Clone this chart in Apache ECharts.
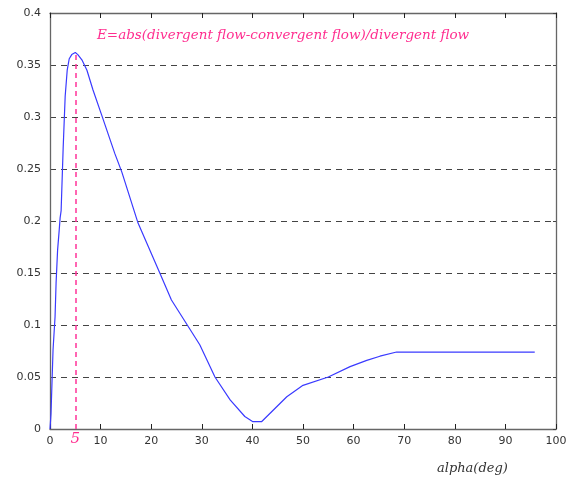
<!DOCTYPE html>
<html><head><meta charset="utf-8">
<script src="https://cdn.jsdelivr.net/npm/echarts@6/dist/echarts.min.js"></script>
<style>html,body{margin:0;padding:0;background:#fff}#c{width:580px;height:481px}</style>
</head><body><div id="c"></div>
<script>
const alpha = [0, 0.2, 0.6, 1.0, 1.2, 1.5, 1.8, 2.0, 2.2, 2.6, 3.0, 3.4, 3.8, 4.3, 5.0, 5.5, 6.3, 7.3, 8.5, 10.2, 12.8, 14.2, 17.4, 21.7, 24.0, 29.6, 32.6, 35.6, 38.5, 40.1, 41.8, 44.1, 46.8, 50.0, 55.0, 59.3, 62.6, 65.2, 68.5, 95.8];
const E =     [0, 0.015, 0.076, 0.108, 0.140, 0.172, 0.190, 0.203, 0.210, 0.270, 0.320, 0.345, 0.356, 0.360, 0.362, 0.360, 0.355, 0.345, 0.326, 0.302, 0.265, 0.247, 0.198, 0.150, 0.124, 0.081, 0.050, 0.028, 0.012, 0.007, 0.007, 0.018, 0.031, 0.042, 0.050, 0.060, 0.066, 0.070, 0.074, 0.074];
const xTicks = [0, 10, 20, 30, 40, 50, 60, 70, 80, 90, 100];
const yTicks = [0, 0.05, 0.1, 0.15, 0.2, 0.25, 0.3, 0.35, 0.4];
const peakAlpha = 5, peakE = 0.362;
const titleText = 'E=abs(divergent flow-convergent flow)/divergent flow';
const xName = 'alpha(deg)';

const chart = echarts.init(document.getElementById('c'));
const axisLineStyle = {color: '#666', width: 1.3};
const pinkLine = {color: '#ff3399', type: [5, 4], width: 1.5};
chart.setOption({
  backgroundColor: '#fff',
  animation: false,
  title: [
    {text: titleText, left: 92, top: 23, textStyle: {fontFamily: 'DejaVu Serif', fontStyle: 'italic', fontWeight: 'normal', fontSize: 13.5, color: '#ff2d8f'}},
    {text: xName, left: 432, top: 457, textStyle: {fontFamily: 'DejaVu Serif', fontStyle: 'italic', fontWeight: 'normal', fontSize: 13, color: '#333'}}
  ],
  grid: {left: 50, right: 24, top: 13, bottom: 52},
  xAxis: [
    {type: 'value', min: 0, max: 100, interval: 10, position: 'bottom',
     axisLine: {onZero: false, lineStyle: axisLineStyle}, axisTick: {inside: true, length: 5, lineStyle: {color: '#222'}},
     axisLabel: {color: '#333', fontSize: 11, fontFamily: 'DejaVu Sans', margin: 7,
       formatter: v => xTicks.includes(v) ? String(v) : ''},
     splitLine: {show: false}},
    {type: 'value', min: 0, max: 100, interval: 10, position: 'top',
     axisLine: {show: true, onZero: false, lineStyle: axisLineStyle}, axisTick: {inside: true, length: 5, lineStyle: {color: '#222'}},
     axisLabel: {show: false}, splitLine: {show: false}}
  ],
  yAxis: [
    {type: 'value', min: 0, max: 0.4, interval: 0.05, position: 'left',
     axisLine: {show: true, onZero: false, lineStyle: axisLineStyle}, axisTick: {show: false},
     axisLabel: {color: '#333', fontSize: 11, fontFamily: 'DejaVu Sans', margin: 9,
       formatter: v => { const t = yTicks.find(k => Math.abs(k - v) < 1e-9); return t === undefined ? '' : String(t); }},
     splitLine: {show: true, showMinLine: false, showMaxLine: false, lineStyle: {type: [6, 5], color: '#444', width: 1}}},
    {type: 'value', min: 0, max: 0.4, interval: 0.05, position: 'right',
     axisLine: {show: true, onZero: false, lineStyle: axisLineStyle}, axisTick: {show: true, inside: true, length: 3, lineStyle: {color: '#444'}},
     axisLabel: {show: false}, splitLine: {show: false}}
  ],
  series: [{
    type: 'line', xAxisIndex: 0, yAxisIndex: 0, showSymbol: false, symbol: 'none',
    data: alpha.map((a, i) => [a, E[i]]),
    lineStyle: {color: '#3a3aff', width: 1.2},
    z: 3,
    markLine: {
      silent: true, symbol: ['none', 'none'],
      lineStyle: pinkLine,
      emphasis: {disabled: true},
      label: {show: true, position: 'start', formatter: String(peakAlpha), color: '#ff2d8f',
        fontFamily: 'DejaVu Serif', fontStyle: 'italic', fontSize: 15, distance: 3},
      data: [[{coord: [peakAlpha, 0], lineStyle: pinkLine}, {coord: [peakAlpha, peakE]}]]
    }
  }]
});
</script></body></html>
